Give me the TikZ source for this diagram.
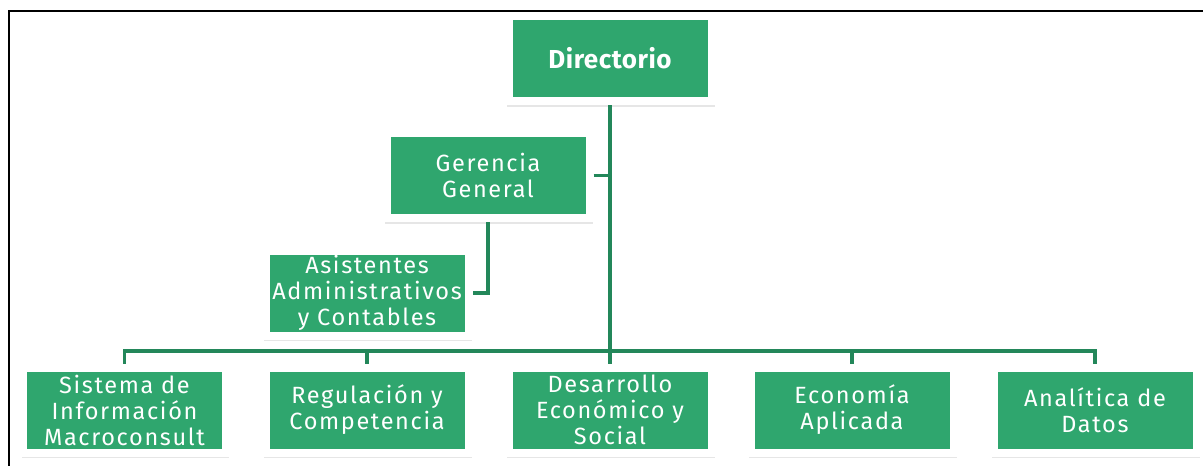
\documentclass[tikz,border=0pt]{standalone}
\usepackage{fontspec}
\setmainfont{Fira Sans}[LetterSpace=7]
\usetikzlibrary{shadows}
\definecolor{boxgreen}{HTML}{2FA66E}
\definecolor{linkgreen}{HTML}{23875A}
\tikzset{
	unit/.style={fill=boxgreen,draw=white,line width=8,minimum width=203,minimum height=85,
		inner sep=0,align=center,text=white,font=\fontsize{23.5}{26}\selectfont,
		drop shadow={shadow xshift=1pt,shadow yshift=-5pt,shadow scale=1.02,opacity=0.2}},
	link/.style={draw=linkgreen,line width=3.2},
}
\begin{document}
\begin{tikzpicture}[x=1pt,y=-1pt]
			\useasboundingbox (0,0) rectangle (1203,466);
			\draw[line width=2] (9,470) -- (9,11) -- (1210,11);
			\coordinate (bus) at (0,351);
			\node[unit,font=\fontsize{26}{28}\selectfont\addfontfeature{LetterSpace=2}\bfseries] (dir) at (610,58.5) {Directorio};
			\node[unit] (ger) at (488,175.5) {Gerencia\\General};
			\node[unit] (asi) at (367,293) {Asistentes\\Administrativos\\y Contables};
			\node[unit] (sis) at (124.5,410) {Sistema de\\Información\\Macroconsult};
			\node[unit] (reg) at (367,410) {Regulación y\\Competencia};
			\node[unit] (des) at (610,410) {Desarrollo\\Económico y\\Social};
			\node[unit] (eco) at (852,410) {Economía\\Aplicada};
			\node[unit] (ana) at (1095,410) {Analítica de\\Datos};
			\draw[link] (dir.south) -- (des.north);
			\draw[link] (ger.east) -- (ger.east -| dir.south);
			\draw[link] (ger.south) |- (asi.east);
			\draw[link] (sis.north) -- (sis.north |- bus) -| (ana.north);
			\foreach \n in {reg,eco} \draw[link] (\n.north) -- (\n.north |- bus);
		\end{tikzpicture}
\end{document}
